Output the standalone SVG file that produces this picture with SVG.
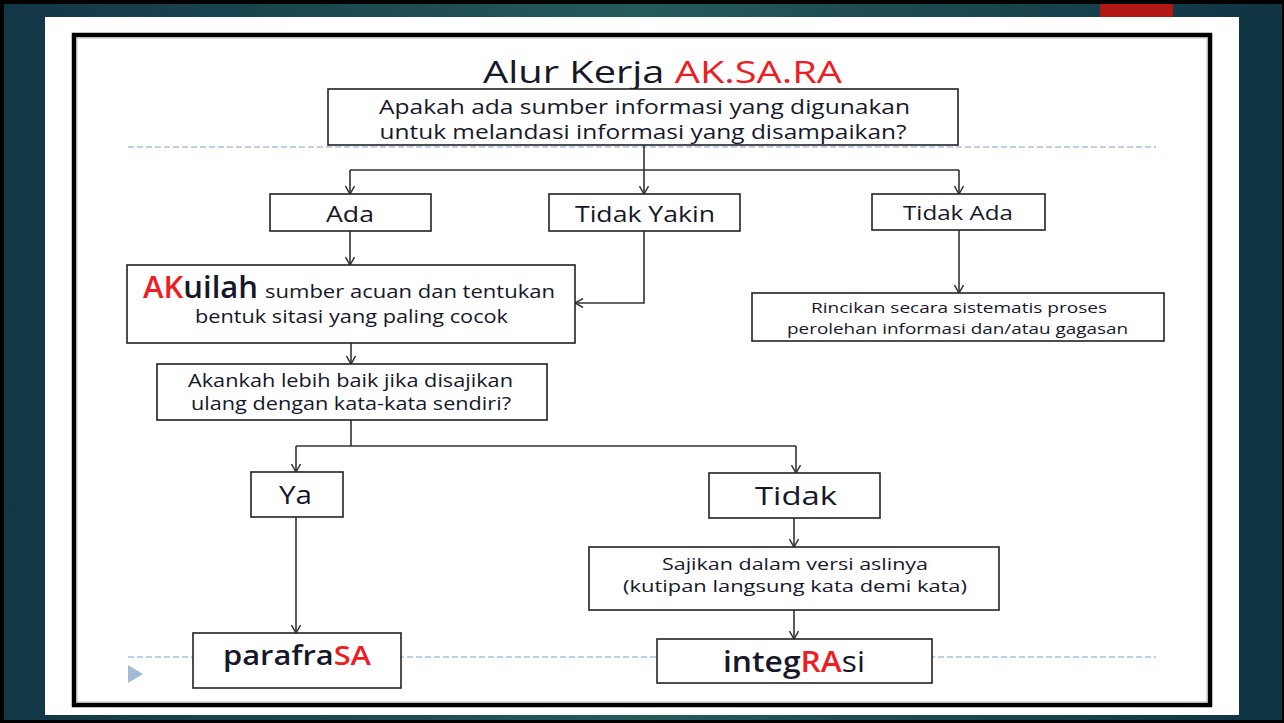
<svg xmlns="http://www.w3.org/2000/svg" width="1284" height="723" viewBox="0 0 1284 723">
<defs>
<linearGradient id="bg" x1="0" y1="0" x2="1" y2="0">
<stop offset="0" stop-color="#123747"/>
<stop offset="0.5" stop-color="#255a5b"/>
<stop offset="1" stop-color="#0f3444"/>
</linearGradient>
<marker id="arr" viewBox="0 0 10 10" refX="9" refY="5" markerWidth="10" markerHeight="10" markerUnits="userSpaceOnUse" orient="auto">
<path d="M1,0.5 L9,5 L1,9.5" fill="none" stroke="#333" stroke-width="1.5"/>
</marker>
<style>
.box{fill:#fff;stroke:#222;stroke-width:1.6}
.t{font-family:"Open Sans","Liberation Sans",sans-serif;fill:#16182a}
.c{text-anchor:middle}
.red{fill:#f01c24}
.ln{fill:none;stroke:#333;stroke-width:1.6}
.dash{stroke:#a9c1d8;stroke-width:1.5;stroke-dasharray:6 3}
</style>
</defs>
<rect x="0" y="0" width="1284" height="723" fill="#000"/>
<rect x="4" y="4" width="1278" height="716" fill="url(#bg)"/>
<rect x="1100" y="4" width="73" height="13" fill="#b31714"/>
<rect x="45" y="17" width="1194" height="698" fill="#fff"/>
<rect x="74" y="35" width="1136" height="670" fill="#fff" stroke="#000" stroke-width="4.5"/>
<rect x="77" y="38" width="1130" height="664" fill="none" stroke="#aaa" stroke-width="0.8"/>
<line class="dash" x1="128" y1="147" x2="1156" y2="147"/>
<line class="dash" x1="128" y1="657" x2="1156" y2="657"/>
<polygon points="128,665 143,674 128,683" fill="#a3bcd3"/>
<text class="t c" x="662.5" y="83" font-size="31" textLength="359" lengthAdjust="spacingAndGlyphs">Alur Kerja <tspan class="red">AK.SA.RA</tspan></text>
<g id="connectors">
<path class="ln" d="M644,145 V170 M350,170 H959"/>
<path class="ln" d="M350,170 V194" marker-end="url(#arr)"/>
<path class="ln" d="M644,170 V194" marker-end="url(#arr)"/>
<path class="ln" d="M959,170 V194" marker-end="url(#arr)"/>
<path class="ln" d="M350,231 V265" marker-end="url(#arr)"/>
<path class="ln" d="M644,231 V303 H575" marker-end="url(#arr)"/>
<path class="ln" d="M959,230 V293" marker-end="url(#arr)"/>
<path class="ln" d="M351,343 V364" marker-end="url(#arr)"/>
<path class="ln" d="M351,420 V446 M296,446 H796"/>
<path class="ln" d="M296,446 V472" marker-end="url(#arr)"/>
<path class="ln" d="M796,446 V473" marker-end="url(#arr)"/>
<path class="ln" d="M296,517 V633" marker-end="url(#arr)"/>
<path class="ln" d="M794,518 V547" marker-end="url(#arr)"/>
<path class="ln" d="M794,610 V639" marker-end="url(#arr)"/>
</g>
<g id="q1">
<rect class="box" x="328" y="89" width="630" height="56"/>
<text class="t c" x="644.5" y="114" font-size="20" textLength="531" lengthAdjust="spacingAndGlyphs">Apakah ada sumber informasi yang digunakan</text>
<text class="t c" x="643" y="139" font-size="20" textLength="527" lengthAdjust="spacingAndGlyphs">untuk melandasi informasi yang disampaikan?</text>
</g>
<g id="ada">
<rect class="box" x="270" y="194" width="161" height="37"/>
<text class="t c" x="350" y="222" font-size="21" textLength="48" lengthAdjust="spacingAndGlyphs">Ada</text>
</g>
<g id="tidakyakin">
<rect class="box" x="549" y="194" width="191" height="37"/>
<text class="t c" x="645" y="222" font-size="21" textLength="140" lengthAdjust="spacingAndGlyphs">Tidak Yakin</text>
</g>
<g id="tidakada">
<rect class="box" x="872" y="194" width="173" height="36"/>
<text class="t c" x="958" y="220" font-size="20" textLength="110" lengthAdjust="spacingAndGlyphs">Tidak Ada</text>
</g>
<g id="akuilah">
<rect class="box" x="127" y="265" width="448" height="78"/>
<text class="t" x="143" y="298" font-size="30" font-weight="600" textLength="115" lengthAdjust="spacingAndGlyphs"><tspan class="red">AK</tspan>uilah</text>
<text class="t" x="265" y="298" font-size="19" textLength="290" lengthAdjust="spacingAndGlyphs">sumber acuan dan tentukan</text>
<text class="t c" x="351.5" y="323" font-size="19" textLength="313" lengthAdjust="spacingAndGlyphs">bentuk sitasi yang paling cocok</text>
</g>
<g id="rincikan">
<rect class="box" x="752" y="293" width="412" height="48"/>
<text class="t c" x="959" y="313" font-size="15" textLength="296" lengthAdjust="spacingAndGlyphs">Rincikan secara sistematis proses</text>
<text class="t c" x="957.5" y="334" font-size="15" textLength="341" lengthAdjust="spacingAndGlyphs">perolehan informasi dan/atau gagasan</text>
</g>
<g id="akankah">
<rect class="box" x="157" y="364" width="390" height="56"/>
<text class="t c" x="350.5" y="387" font-size="18" textLength="325" lengthAdjust="spacingAndGlyphs">Akankah lebih baik jika disajikan</text>
<text class="t c" x="351" y="410" font-size="18" textLength="320" lengthAdjust="spacingAndGlyphs">ulang dengan kata-kata sendiri?</text>
</g>
<g id="ya">
<rect class="box" x="251" y="472" width="92" height="45"/>
<text class="t c" x="295.5" y="504" font-size="26" textLength="33" lengthAdjust="spacingAndGlyphs">Ya</text>
</g>
<g id="tidak">
<rect class="box" x="709" y="473" width="171" height="45"/>
<text class="t c" x="796" y="505" font-size="26" textLength="82" lengthAdjust="spacingAndGlyphs">Tidak</text>
</g>
<g id="sajikan">
<rect class="box" x="589" y="547" width="410" height="63"/>
<text class="t c" x="795" y="570" font-size="17" textLength="266" lengthAdjust="spacingAndGlyphs">Sajikan dalam versi aslinya</text>
<text class="t c" x="795" y="592" font-size="17" textLength="344" lengthAdjust="spacingAndGlyphs">(kutipan langsung kata demi kata)</text>
</g>
<g id="parafrasa">
<rect class="box" x="193" y="633" width="208" height="55"/>
<text class="t c" x="297" y="665" font-size="27" font-weight="600" textLength="148" lengthAdjust="spacingAndGlyphs">parafra<tspan class="red">SA</tspan></text>
</g>
<g id="integrasi">
<rect class="box" x="657" y="639" width="275" height="44"/>
<text class="t c" x="794" y="672" font-size="29" font-weight="600" textLength="142" lengthAdjust="spacingAndGlyphs">integ<tspan class="red">RA</tspan><tspan font-weight="400">si</tspan></text>
</g>
</svg>
